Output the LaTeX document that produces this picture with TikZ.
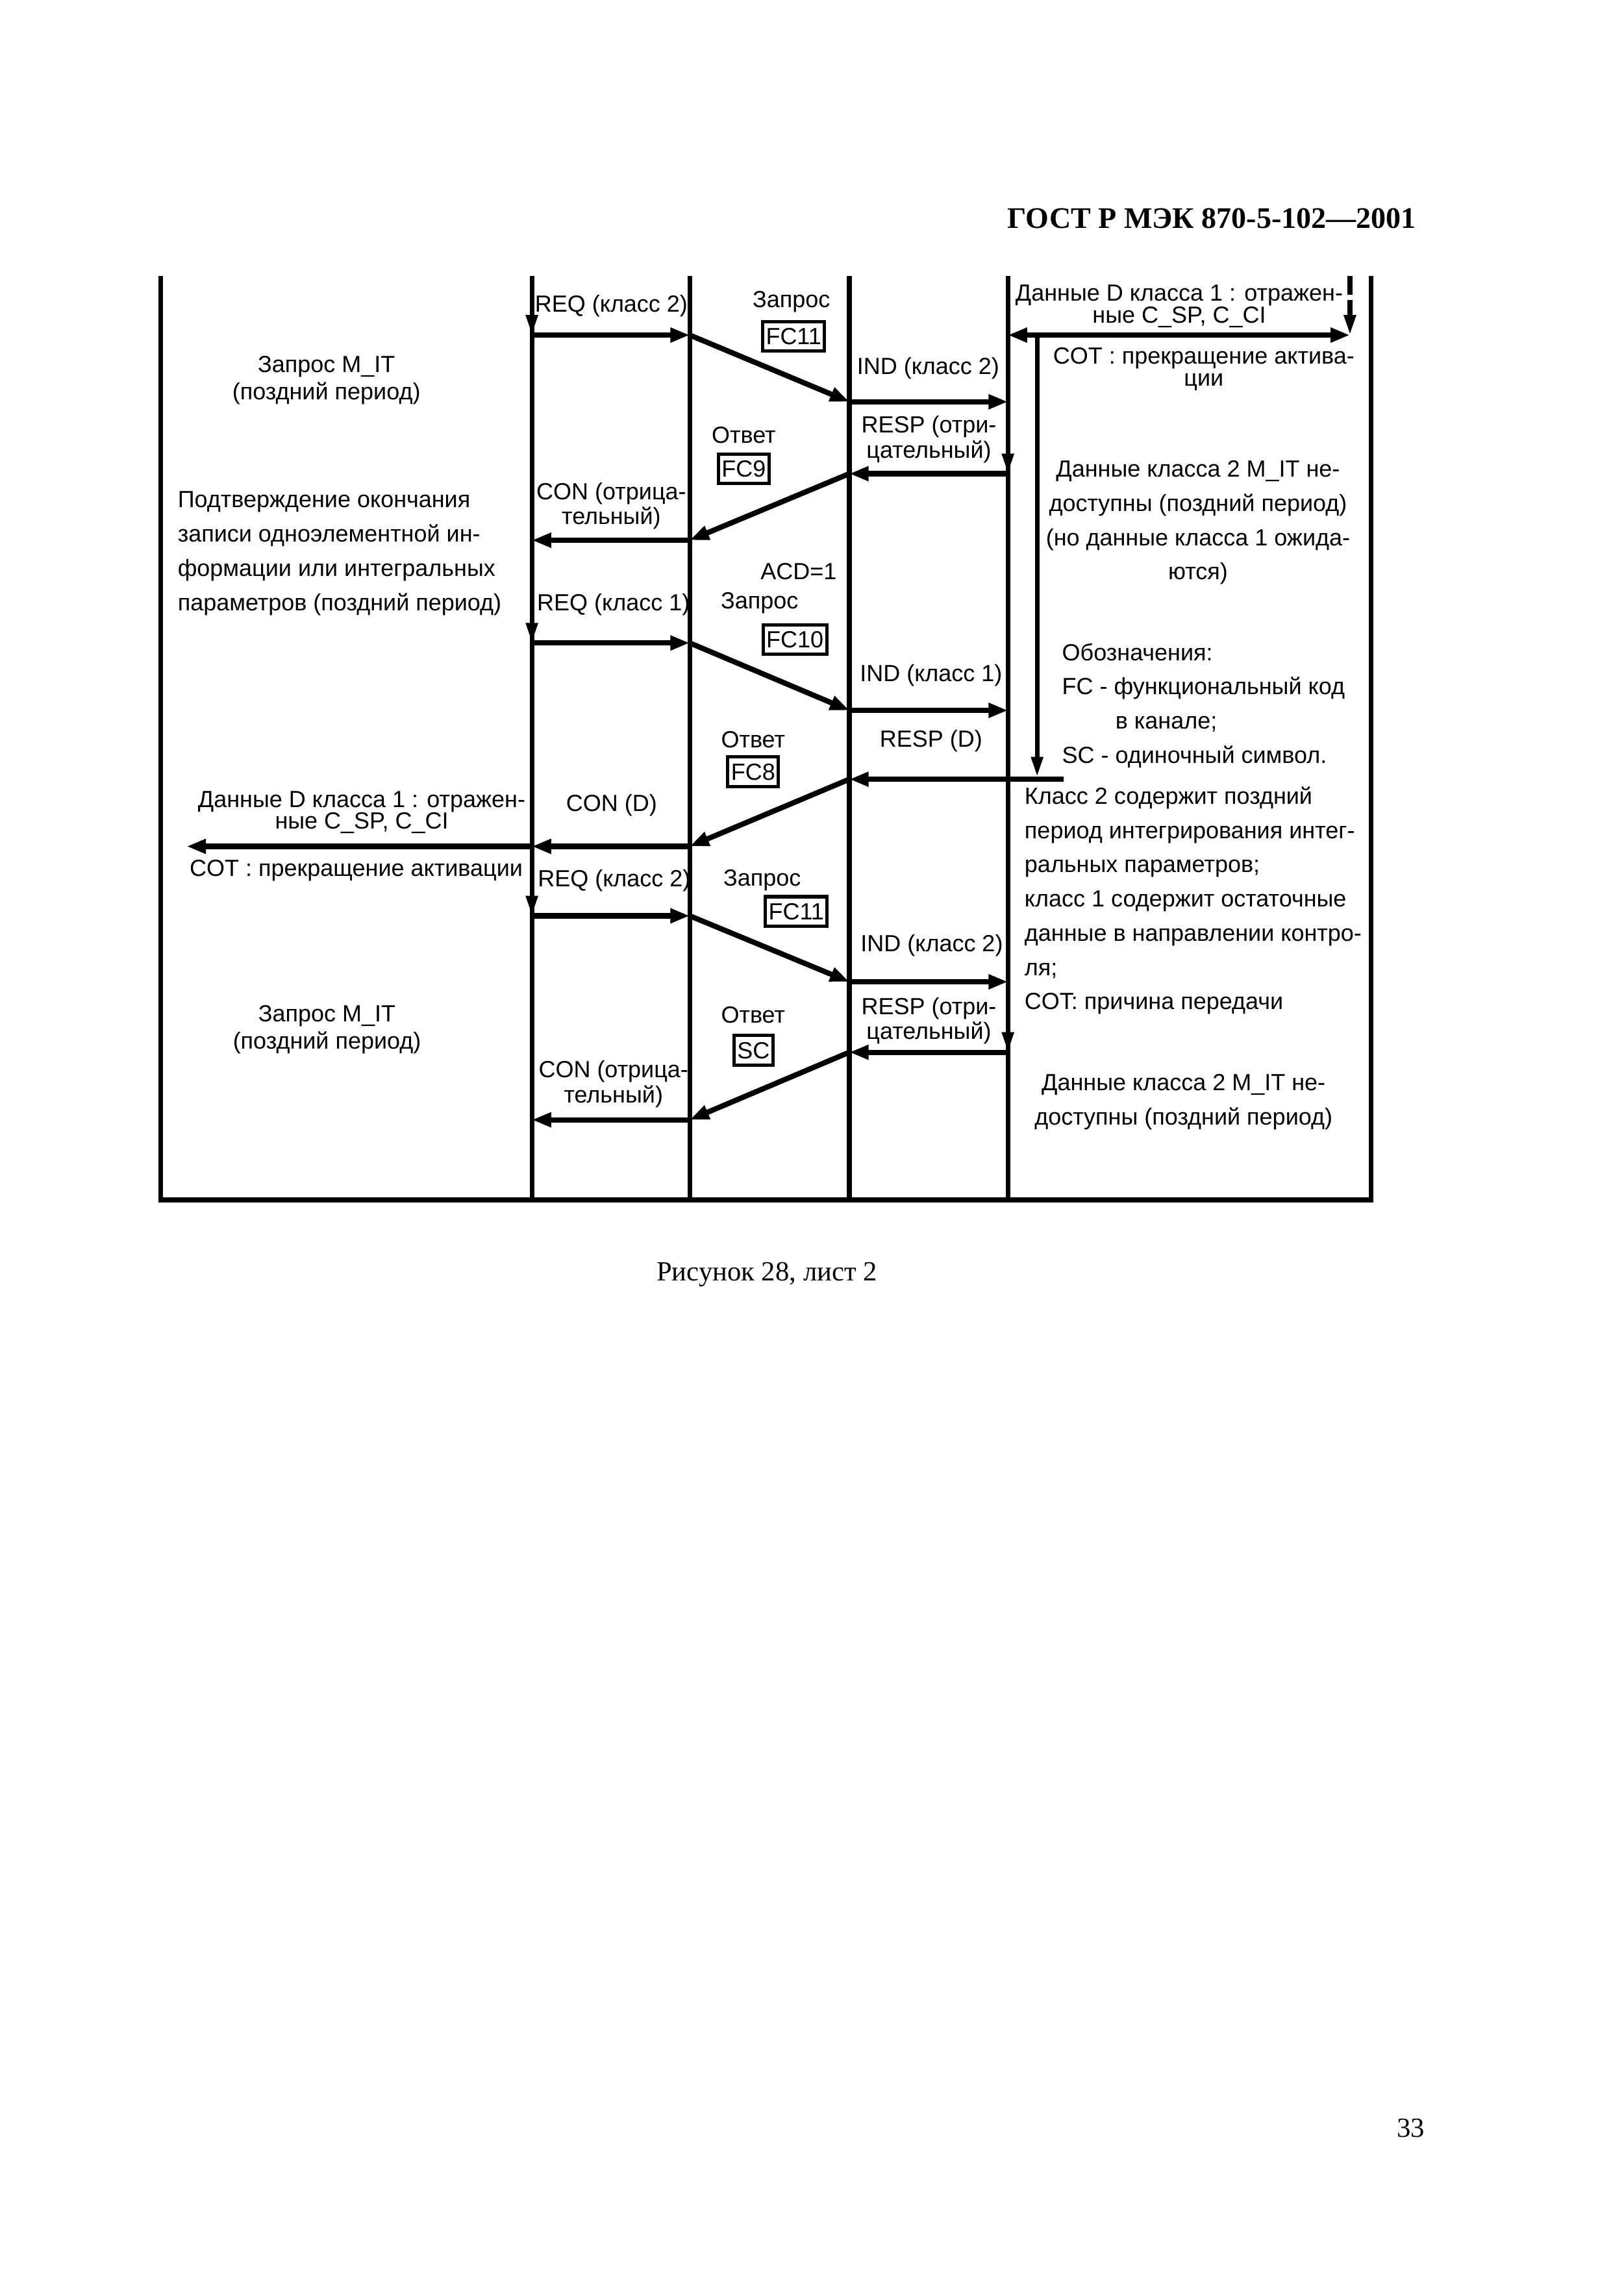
\documentclass[tikz,border=0pt]{standalone}
\usepackage{fontspec}
\setmainfont{Liberation Serif}
\newfontfamily\diagfont{Liberation Sans}
\usetikzlibrary{arrows.meta,calc}

\begin{document}
\begin{tikzpicture}[x=0.18717mm, y=-0.18717mm,
    life/.style={line width=1.7pt},
    msg/.style={line width=1.95pt, -{Triangle[length=2.5mm,width=1.8mm]}},
    tick/.style={line width=1.7pt, -{Triangle[length=2.6mm,width=1.45mm]}},
    lbl/.style={font=\diagfont\fontsize{8.6}{8}\selectfont, inner sep=0pt, align=center},
    pair/.style={font=\diagfont\fontsize{8.6}{10}\selectfont, inner sep=0pt, align=center},
    para/.style={font=\diagfont\fontsize{8.6}{12.6}\selectfont, inner sep=0pt},
    code/.style={draw, line width=1.2pt, inner xsep=1.2pt, inner ysep=2.4pt, font=\diagfont\fontsize{8.6}{10}\selectfont}
]
    \useasboundingbox (0,0) rectangle (1122,1576.6);

    % Frame and lifelines
    \draw[life] (110.9,190.8) -- (110.9,829.5) -- (947.5,829.5) -- (947.5,190.8);
    \draw[line width=1.9pt] (110.9,829.5) -- (947.5,829.5);
    \foreach \lx in {367.6,476.7,587,696.6}
        \draw[life] (\lx,190.8) -- (\lx,829.5);

    % Event points
    \coordinate (m1) at (367.6,231.6); \coordinate (p1) at (476.7,231.6);
    \coordinate (q1) at (587,277.7);   \coordinate (s1) at (696.6,277.7);
    \coordinate (s2) at (696.6,327.4); \coordinate (q2) at (587,327.4);
    \coordinate (p2) at (476.7,373.4); \coordinate (m2) at (367.6,373.4);
    \coordinate (m3) at (367.6,444.4); \coordinate (p3) at (476.7,444.4);
    \coordinate (q3) at (587,491);     \coordinate (s3) at (696.6,491);
    \coordinate (w4) at (735,538.6);   \coordinate (q4) at (587,538.6);
    \coordinate (p4) at (476.7,585);   \coordinate (m4) at (367.6,585);
    \coordinate (e4) at (129,585);
    \coordinate (m5) at (367.6,633);   \coordinate (p5) at (476.7,633);
    \coordinate (q5) at (587,678.6);   \coordinate (s5) at (696.6,678.6);
    \coordinate (s6) at (696.6,727.3); \coordinate (q6) at (587,727.3);
    \coordinate (p6) at (476.7,774);   \coordinate (m6) at (367.6,774);

    % Class 1 data on the right side
    \coordinate (s0) at (696.6,231.6); \coordinate (d0) at (933,231.6);
    \coordinate (d0top) at (933,190.8);
    \coordinate (v0) at (716.8,231.6); \coordinate (v4) at (716.8,537);

    % Messages
    \draw[tick] ($(m1)+(0,-22)$) -- (m1);
    \draw[msg] (m1) -- (p1);
    \draw[msg] (p1) -- (q1);
    \draw[msg] (q1) -- (s1);
    \draw[tick] ($(s2)+(0,-22)$) -- (s2);
    \draw[msg] (s2) -- (q2);
    \draw[msg] (q2) -- (p2);
    \draw[msg] (p2) -- (m2);
    \draw[tick] ($(m3)+(0,-22)$) -- (m3);
    \draw[msg] (m3) -- (p3);
    \draw[msg] (p3) -- (q3);
    \draw[msg] (q3) -- (s3);
    \draw[msg] (w4) -- (q4);
    \draw[msg] (q4) -- (p4);
    \draw[msg] (p4) -- (m4);
    \draw[msg] (m4) -- (e4);
    \draw[tick] ($(m5)+(0,-22)$) -- (m5);
    \draw[msg] (m5) -- (p5);
    \draw[msg] (p5) -- (q5);
    \draw[msg] (q5) -- (s5);
    \draw[tick] ($(s6)+(0,-22)$) -- (s6);
    \draw[msg] (s6) -- (q6);
    \draw[msg] (q6) -- (p6);
    \draw[msg] (p6) -- (m6);

    \draw[msg, {Triangle[length=2.5mm,width=1.8mm]}-{Triangle[length=2.5mm,width=1.8mm]}] (s0) -- (d0);
    \draw[tick, dash pattern=on 2.4mm off 0.7mm] (d0top) -- (d0);
    \draw[tick] (v0) -- (v4);

    % Left column
    \node[pair] (mit1) at (225.6,263) {Запрос M\_IT\\(поздний период)};
    \node[para, align=left, anchor=west] (confirm) at (122.5,382.5) {Подтверждение окончания\\записи одноэлементной ин-\\формации или интегральных\\параметров (поздний период)};
    \node[lbl] (dataL) at (250,561.5) {Данные D класса 1 : отражен-\\ные C\_SP, C\_CI};
    \node[lbl] (cotL) at (246.2,601.5) {COT : прекращение активации};
    \node[pair] (mit2) at (226,711.7) {Запрос M\_IT\\(поздний период)};

    % Between station and link layer
    \node[lbl] (req1) at (422.5,211.6) {REQ (класс 2)};
    \node[lbl] (con1) at (422.5,349.8) {CON (отрица-\\тельный)};
    \node[lbl] (req2) at (424,418) {REQ (класс 1)};
    \node[lbl] (con2) at (422.7,556.4) {CON (D)};
    \node[lbl] (req3) at (424.5,608.5) {REQ (класс 2)};
    \node[lbl] (con3) at (424,749.3) {CON (отрица-\\тельный)};

    % Function codes
    \node[lbl] (ask1) at (547,208.6) {Запрос};
    \node[code] (fc11a) at (548.5,232.4) {FC11};
    \node[lbl] (ans1) at (514,300.7) {Ответ};
    \node[code] (fc9) at (514,324) {FC9};
    \node[lbl] (acd) at (552,395) {ACD=1};
    \node[lbl] (ask2) at (525,417) {Запрос};
    \node[code] (fc10) at (549.4,442) {FC10};
    \node[lbl] (ans2) at (520.5,511) {Ответ};
    \node[code] (fc8) at (520.5,533.5) {FC8};
    \node[lbl] (ask3) at (526.8,608.5) {Запрос};
    \node[code] (fc11b) at (550.3,630) {FC11};
    \node[lbl] (ans3) at (520.5,701.7) {Ответ};
    \node[code] (sc) at (520.7,726) {SC};

    % Between link layers
    \node[lbl] (ind1) at (641.5,254.7) {IND (класс 2)};
    \node[lbl] (resp1) at (642,303.7) {RESP (отри-\\цательный)};
    \node[lbl] (ind2) at (643.5,467) {IND (класс 1)};
    \node[lbl] (resp2) at (643.5,512.3) {RESP (D)};
    \node[lbl] (ind3) at (644,653.5) {IND (класс 2)};
    \node[lbl] (resp3) at (642,705.6) {RESP (отри-\\цательный)};

    % Right column
    \node[lbl] (dataR) at (815,211.6) {Данные D класса 1 : отражен-\\ные C\_SP, C\_CI};
    \node[lbl] (cotR) at (832,255.2) {COT : прекращение актива-\\ции};
    \node[para, align=center] (none1) at (828,361.3) {Данные класса 2 M\_IT не-\\доступны (поздний период)\\(но данные класса 1 ожида-\\ются)};
    \node[para, align=left, anchor=west] (legend) at (733.7,487.6) {Обозначения:\\FC - функциональный код\\\hspace*{6.9mm}в канале;\\SC - одиночный символ.};
    \node[para, align=left, anchor=west] (notes) at (707.8,622.5) {Класс 2 содержит поздний\\период интегрирования интег-\\ральных параметров;\\класс 1 содержит остаточные\\данные в направлении контро-\\ля;\\COT: причина передачи};
    \node[para, align=center] (none2) at (818,761.8) {Данные класса 2 M\_IT не-\\доступны (поздний период)};

    % Page texts
    \node[font=\bfseries\fontsize{11}{13}\selectfont, anchor=east, inner sep=0pt] (title) at (979,151) {ГОСТ Р МЭК 870-5-102—2001};
    \node[font=\fontsize{10.2}{12}\selectfont, inner sep=0pt] (caption) at (530,881) {Рисунок 28, лист 2};
    \node[font=\fontsize{10.2}{12}\selectfont, inner sep=0pt] (page) at (975,1471) {33};
\end{tikzpicture}
\end{document}
